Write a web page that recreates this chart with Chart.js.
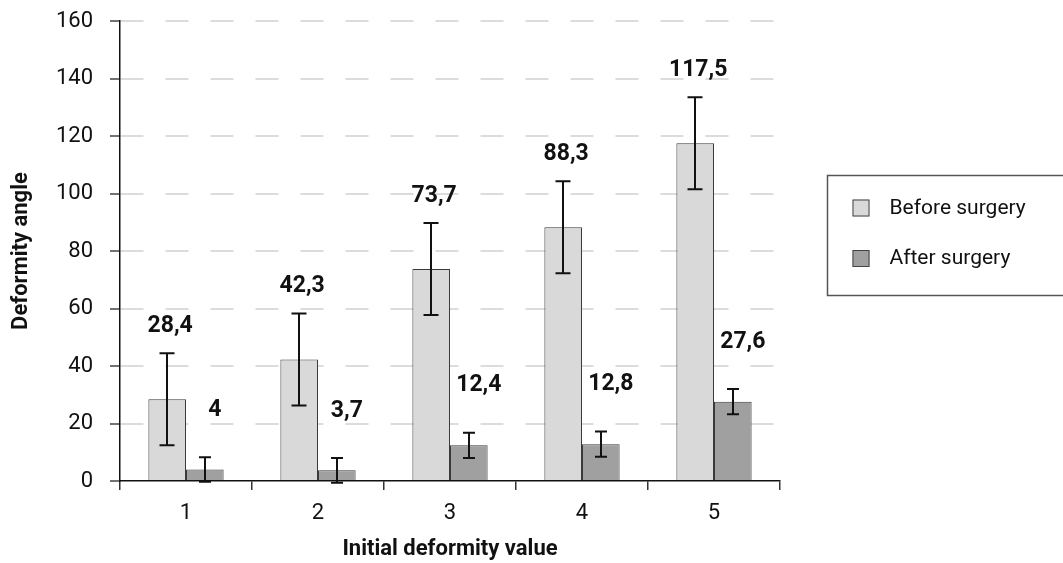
<!DOCTYPE html>
<html>
<head>
<meta charset="utf-8">
<script src="https://cdn.jsdelivr.net/npm/chart.js@4.4.1/dist/chart.umd.min.js"></script>
<style>
  html, body { margin: 0; padding: 0; background: #fff; }
  canvas { display: block; }
</style>
</head>
<body>
<canvas id="chart" width="1063" height="563"></canvas>
<script>
// Categories and series
const categories = ['1', '2', '3', '4', '5'];
const seriesNames = ['Before surgery', 'After surgery'];
const beforeValues = [28.4, 42.3, 73.7, 88.3, 117.5];
const afterValues = [4, 3.7, 12.4, 12.8, 27.6];
// Error bar half-ranges (same units as the values)
const beforeErrors = [16, 16, 16, 16, 16];
const afterErrors = [4.3, 4.3, 4.4, 4.4, 4.4];
// Y axis ticks
const yTickValues = [0, 20, 40, 60, 80, 100, 120, 140, 160];
const xTitle = 'Initial deformity value';
const yTitle = 'Deformity angle';

const FONT = "Roboto, 'Liberation Sans', sans-serif";
const fillColors = ['#d9d9d9', '#a0a0a0'];
const errorLists = [beforeErrors, afterErrors];

function fmt(v) { return String(v).replace('.', ','); }

// Error bars with caps, drawn over each bar
const errorBarPlugin = {
  id: 'errorBars',
  afterDatasetsDraw(chart) {
    const { ctx } = chart;
    const y = chart.scales.y;
    ctx.save();
    ctx.strokeStyle = '#111';
    ctx.lineWidth = 2;
    chart.data.datasets.forEach((ds, di) => {
      const meta = chart.getDatasetMeta(di);
      const capHalf = di === 0 ? 7.5 : 6;
      meta.data.forEach((bar, i) => {
        const v = ds.data[i], e = errorLists[di][i];
        const top = y.getPixelForValue(v + e);
        const bot = y.getPixelForValue(v - e);
        const x = Math.round(bar.x);
        ctx.beginPath();
        ctx.moveTo(x, top); ctx.lineTo(x, bot);
        ctx.moveTo(x - capHalf, top); ctx.lineTo(x + capHalf, top);
        ctx.moveTo(x - capHalf, bot); ctx.lineTo(x + capHalf, bot);
        ctx.stroke();
      });
    });
    ctx.restore();
  }
};

// Value labels above the error bars
const valueLabelPlugin = {
  id: 'valueLabels',
  afterDatasetsDraw(chart) {
    const { ctx } = chart;
    const y = chart.scales.y;
    ctx.save();
    ctx.font = 'bold 23px ' + FONT;
    ctx.fillStyle = '#111';
    ctx.textAlign = 'center';
    ctx.textBaseline = 'middle';
    chart.data.datasets.forEach((ds, di) => {
      const meta = chart.getDatasetMeta(di);
      const lift = di === 0 ? 27 : 47;
      const shift = di === 0 ? 3 : 10;
      meta.data.forEach((bar, i) => {
        const v = ds.data[i], e = errorLists[di][i];
        const top = y.getPixelForValue(v + e);
        ctx.fillText(fmt(v), bar.x + shift, top - lift);
      });
    });
    ctx.restore();
  }
};

// Boxed legend to the right of the plot
const boxLegendPlugin = {
  id: 'boxLegend',
  afterDraw(chart) {
    const { ctx, chartArea } = chart;
    const left = chartArea.right + 47.5;
    const top = chartArea.top + 154.5;
    ctx.save();
    ctx.strokeStyle = '#555';
    ctx.lineWidth = 1.5;
    ctx.strokeRect(left, top, 260, 120);
    ctx.font = '21px ' + FONT;
    ctx.textBaseline = 'middle';
    ctx.textAlign = 'left';
    chart.data.datasets.forEach((ds, di) => {
      const cy = top + 32 + di * 50.5;
      ctx.fillStyle = ds.backgroundColor;
      ctx.fillRect(left + 25, cy - 8, 17, 17);
      ctx.strokeStyle = '#444';
      ctx.lineWidth = 1;
      ctx.strokeRect(left + 25.5, cy - 7.5, 16, 16);
      ctx.fillStyle = '#111';
      ctx.fillText(ds.label, left + 62, cy + 1);
    });
    ctx.restore();
  }
};

function draw() {
  new Chart(document.getElementById('chart'), {
    type: 'bar',
    data: {
      labels: categories,
      datasets: [
        { label: seriesNames[0], data: beforeValues, backgroundColor: fillColors[0], borderColor: '#3a3a3a', borderWidth: 1 },
        { label: seriesNames[1], data: afterValues, backgroundColor: fillColors[1], borderColor: '#3a3a3a', borderWidth: 1 }
      ]
    },
    options: {
      responsive: false,
      animation: false,
      layout: { padding: { top: 21, right: 283, left: 0, bottom: 0 } },
      datasets: { bar: { categoryPercentage: 0.57, barPercentage: 1 } },
      plugins: { legend: { display: false }, tooltip: { enabled: false } },
      scales: {
        x: {
          offset: true,
          grid: { display: true, drawOnChartArea: false, drawTicks: true, tickLength: 9, color: '#333', lineWidth: 1.5 },
          border: { display: true, color: '#111', width: 1.5 },
          ticks: { color: '#111', font: { family: FONT, size: 22 }, padding: 10 },
          title: { display: true, text: xTitle, color: '#111', font: { family: FONT, size: 22, weight: 'bold' }, padding: { top: 0, bottom: 0 } },
          afterFit(scale) { scale.height = 82; }
        },
        y: {
          min: 0, max: 160,
          afterBuildTicks(scale) { scale.ticks = yTickValues.map(v => ({ value: v })); },
          grid: {
            color: (c) => (c.tick && c.tick.value === 0) ? 'rgba(0,0,0,0)' : '#dcdcdc',
            lineWidth: 2,
            tickBorderDash: [1, 0],
            tickColor: '#444',
            tickWidth: 1.5,
            tickLength: 10
          },
          border: { display: true, color: '#111', width: 1.5, dash: [23, 22] },
          ticks: { color: '#111', font: { family: FONT, size: 22 }, padding: 17 },
          title: { display: true, text: yTitle, color: '#111', font: { family: FONT, size: 22, weight: 'bold' }, padding: { top: 8, bottom: 0 } },
          afterFit(scale) {
            scale.width = 120;
            scale.paddingTop = 12;
            scale.paddingBottom = 0;
          }
        }
      }
    },
    plugins: [errorBarPlugin, valueLabelPlugin, boxLegendPlugin]
  });
}

Promise.all([
  document.fonts.load('22px Roboto'),
  document.fonts.load('bold 22px Roboto')
]).catch(() => {}).then(draw);
</script>
</body>
</html>
